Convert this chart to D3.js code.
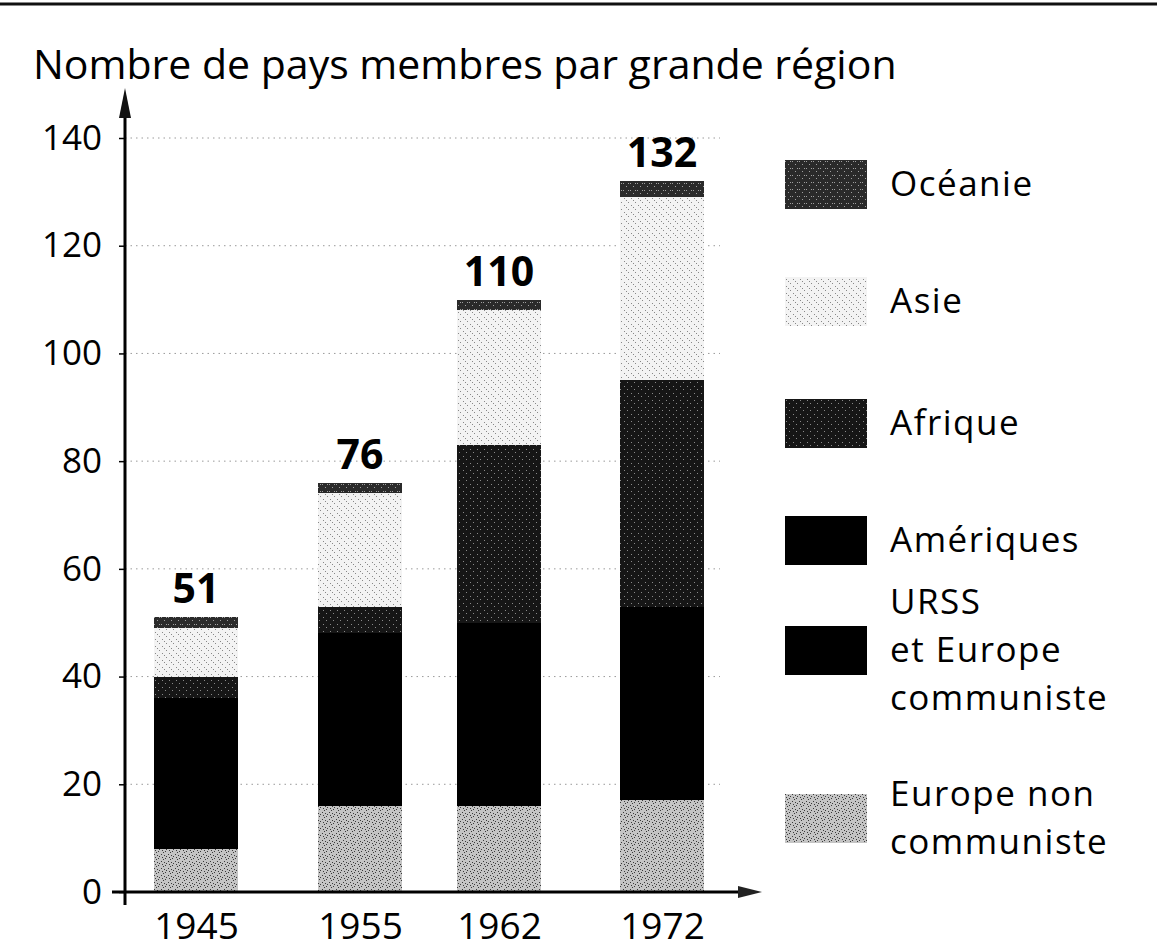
<!DOCTYPE html>
<html lang="fr">
<head>
    <meta charset="UTF-8">
    <title>Nombre de pays membres par grande région</title>
    <script src="https://cdn.jsdelivr.net/npm/d3@7/dist/d3.min.js"></script>
    <style>
        body { margin: 0; background: #fff; }
        text { font-family: "Open Sans", "DejaVu Sans", sans-serif; fill: #000; }
    </style>
</head>
<body>
<script>

    // données : nombre de pays membres de l'ONU
    const years = [1945, 1955, 1962, 1972];
    const totals = [51, 76, 110, 132];
    const europeNonCom = [8, 16, 16, 17];
    const urss = [6, 10, 10, 10];
    const ameriques = [22, 22, 24, 26];
    const afrique = [4, 5, 33, 42];
    const asie = [9, 21, 25, 34];
    const oceanie = [2, 2, 2, 3];
    const yTicks = [0, 20, 40, 60, 80, 100, 120, 140];

    // du bas vers le haut
    const regions = [
        {key: "europe", label: ["Europe non", "communiste"], values: europeNonCom},
        {key: "urss", label: ["URSS", "et Europe", "communiste"], values: urss},
        {key: "ameriques", label: ["Amériques"], values: ameriques},
        {key: "afrique", label: ["Afrique"], values: afrique},
        {key: "asie", label: ["Asie"], values: asie},
        {key: "oceanie", label: ["Océanie"], values: oceanie}
    ];

    const W = 1157, H = 949;
    const svg = d3.select("body").append("svg").attr("width", W).attr("height", H);

    // textures façon trame imprimée
    const defs = svg.append("defs");
    const textures = {
        europe: {base: "#c4c4c4", dot: "#3a3a3a", dots: [[0,0],[3,1],[1,3],[4,4],[2,5],[5,2]]},
        urss: {base: "#000", dot: "#000", dots: []},
        ameriques: {base: "#000", dot: "#000", dots: []},
        afrique: {base: "#161616", dot: "#8a8a8a", dots: [[1,1],[4,4]]},
        asie: {base: "#f3f3f3", dot: "#888", dots: [[1,2],[5,6],[3,4]]},
        oceanie: {base: "#2a2a2a", dot: "#a0a0a0", dots: [[0,1],[3,4],[5,1]]}
    };
    Object.entries(textures).forEach(([k, t]) => {
        const p = defs.append("pattern").attr("id", "tx-" + k)
            .attr("patternUnits", "userSpaceOnUse").attr("width", 7).attr("height", 7);
        p.append("rect").attr("width", 7).attr("height", 7).attr("fill", t.base);
        t.dots.forEach(d => p.append("rect").attr("x", d[0]).attr("y", d[1])
            .attr("width", 1).attr("height", 1).attr("fill", t.dot));
    });

    // trait du haut
    svg.append("line").attr("x1", 0).attr("x2", W).attr("y1", 4).attr("y2", 4)
        .attr("stroke", "#111").attr("stroke-width", 3);

    svg.append("text").attr("x", 33).attr("y", 79)
        .style("font-size", "41px")
        .text("Nombre de pays membres par grande région");

    const axisX = 125;
    const y = d3.scaleLinear().domain([0, 140]).range([892, 138]);
    const x = d3.scaleLinear().domain(years).range([196, 360, 499, 662]);
    const barW = 84;

    // lignes de repère pointillées
    svg.append("g").selectAll("line")
        .data(yTicks.filter(d => d > 0))
        .join("line")
        .attr("x1", axisX).attr("x2", 720)
        .attr("y1", d => y(d)).attr("y2", d => y(d))
        .attr("stroke", "#9a9a9a").attr("stroke-width", 1)
        .attr("stroke-dasharray", "1.5,4");

    const stack = d3.stack().keys(regions.map(r => r.key));
    const table = years.map((yr, i) => {
        const row = {year: yr};
        regions.forEach(r => row[r.key] = r.values[i]);
        return row;
    });
    const layers = stack(table);

    svg.append("g")
        .attr("shape-rendering", "crispEdges")
        .selectAll("g")
        .data(layers)
        .join("g")
        .attr("fill", d => `url(#tx-${d.key})`)
        .selectAll("rect")
        .data(d => d)
        .join("rect")
        .attr("x", d => Math.round(x(d.data.year) - barW / 2))
        .attr("width", barW)
        .attr("y", d => Math.round(y(d[1])))
        .attr("height", d => Math.round(y(d[0])) - Math.round(y(d[1])));

    // totaux
    svg.append("g").selectAll("text")
        .data(years)
        .join("text")
        .attr("x", d => x(d))
        .attr("y", (d, i) => y(totals[i]) - 14)
        .attr("text-anchor", "middle")
        .style("font-size", "41px").style("font-weight", "bold")
        .text((d, i) => totals[i]);

    // axe vertical
    svg.append("g")
        .attr("transform", `translate(${axisX},0)`)
        .call(d3.axisLeft(y).tickValues(yTicks).tickSize(6).tickPadding(17))
        .call(g => g.select(".domain").remove())
        .call(g => g.selectAll(".tick line").attr("stroke", "#000").attr("stroke-width", 1.5))
        .call(g => g.selectAll(".tick text").style("font-size", "35px")
            .style("font-family", "'Open Sans', sans-serif").attr("fill", "#000"));

    svg.append("line").attr("x1", axisX).attr("x2", axisX)
        .attr("y1", 905).attr("y2", 112)
        .attr("stroke", "#000").attr("stroke-width", 3);
    svg.append("path")
        .attr("d", `M${axisX},88 L${axisX - 6},118 L${axisX + 6},118 Z`)
        .attr("fill", "#111");

    // axe horizontal
    svg.append("g")
        .attr("transform", `translate(0,${y(0)})`)
        .call(d3.axisBottom(x).tickValues(years).tickFormat(d3.format("d")).tickSize(0).tickPadding(21))
        .call(g => g.select(".domain").remove())
        .call(g => g.selectAll(".tick text").style("font-size", "37px")
            .style("font-family", "'Open Sans', sans-serif").attr("fill", "#000"));

    svg.append("line").attr("x1", 112).attr("x2", 745)
        .attr("y1", y(0)).attr("y2", y(0))
        .attr("stroke", "#000").attr("stroke-width", 3);
    svg.append("path")
        .attr("d", `M762,${y(0)} L738,${y(0) - 6} L738,${y(0) + 6} Z`)
        .attr("fill", "#222");

    // légende
    const legendTop = [794, 626, 516, 399, 277, 160];
    const lineGap = 48;
    const legend = svg.append("g").selectAll("g")
        .data(regions)
        .join("g")
        .attr("transform", (d, i) => `translate(785,${legendTop[i]})`);
    legend.append("rect")
        .attr("width", 82).attr("height", 49)
        .attr("fill", d => `url(#tx-${d.key})`);
    legend.append("text")
        .attr("x", 105)
        .attr("y", 24)
        .style("font-size", "35px").style("letter-spacing", "1.5px")
        .selectAll("tspan")
        .data(d => d.label.map((l, j) => ({l, j, n: d.label.length})))
        .join("tspan")
        .attr("x", 105)
        .attr("y", t => 24 + 12 + (t.j - (t.n - 1) / 2) * lineGap)
        .text(t => t.l);

</script>
</body>
</html>
